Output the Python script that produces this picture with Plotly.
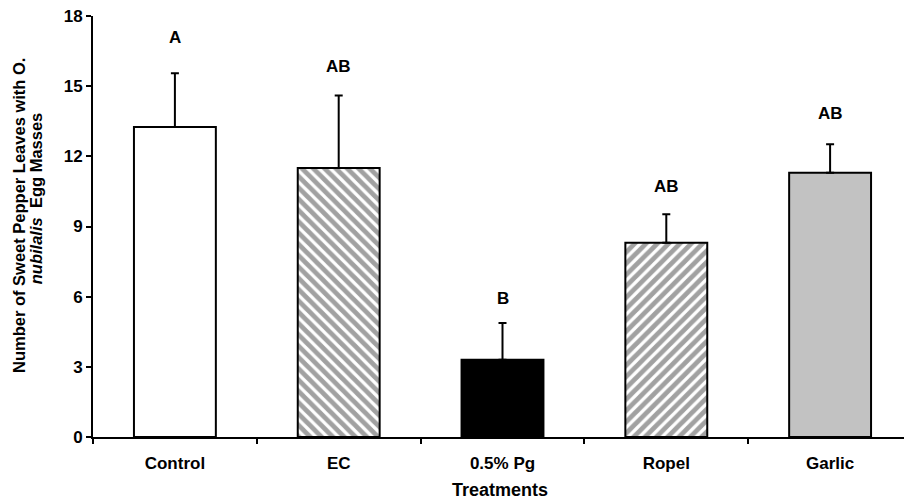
import plotly.graph_objects as go

treatments = ["Control", "EC", "0.5% Pg", "Ropel", "Garlic"]
means = [13.25, 11.5, 3.3, 8.3, 11.3]
se = [2.3, 3.1, 1.57, 1.22, 1.22]
letters = ["A", "AB", "B", "AB", "AB"]
y_ticks = [0, 3, 6, 9, 12, 15, 18]

fills = ["white", "white", "black", "white", "#c2c2c2"]
shapes = ["", "\\", "", "/", ""]

FAM = "Liberation Sans, Arial, sans-serif"

fig = go.Figure()
fig.add_trace(go.Bar(
    x=treatments, y=means, width=0.5,
    marker=dict(
        color=fills,
        line=dict(color="black", width=2),
        pattern=dict(shape=shapes, fgcolor="black", bgcolor="white",
                     size=8, solidity=0.6, fillmode="overlay"),
    ),
    error_y=dict(type="data", array=se, arrayminus=[0] * len(se),
                 symmetric=False, color="black", thickness=2, width=4),
))

offsets = [36, 29, 25, 28, 31]
for t, m, s, l, o in zip(treatments, means, se, letters, offsets):
    fig.add_annotation(x=t, y=m + s, text=f"<b>{l}</b>", showarrow=False,
                       yshift=o, font=dict(family=FAM, size=17, color="black"))

# y-axis title (two lines)
fig.add_annotation(
    xref="paper", yref="paper", x=-0.0905, y=0.527, xanchor="center", yanchor="middle",
    textangle=-90, showarrow=False,
    text="<b>Number of Sweet Pepper Leaves with O.</b>",
    font=dict(family=FAM, size=16.5, color="black"),
)
fig.add_annotation(
    xref="paper", yref="paper", x=-0.0695, y=0.565, xanchor="center", yanchor="middle",
    textangle=-90, showarrow=False,
    text="<b><i>nubilalis</i>  Egg Masses</b>",
    font=dict(family=FAM, size=16.5, color="black"),
)
# x-axis title
fig.add_annotation(
    xref="paper", yref="paper", x=0.497, y=-0.126, xanchor="center", yanchor="middle",
    showarrow=False, text="<b>Treatments</b>",
    font=dict(family=FAM, size=18, color="black"),
)

fig.update_layout(
    width=904, height=492,
    margin=dict(l=85, r=0, t=8, b=63),
    plot_bgcolor="white", paper_bgcolor="white",
    showlegend=False, font=dict(family=FAM, color="black"),
    xaxis=dict(
        range=[-0.5, 4.5], showline=True, linecolor="black", linewidth=2,
        ticks="outside", tickson="boundaries", ticklen=5, tickwidth=2, tickcolor="black",
        showgrid=False, zeroline=False,
        tickfont=dict(family=FAM, size=17, color="black", weight="bold"),
        ticklabelstandoff=10,
    ),
    yaxis=dict(
        range=[0, 18], tickvals=y_ticks, showline=True, linecolor="black", linewidth=2,
        ticks="outside", ticklen=5, tickwidth=2, tickcolor="black",
        showgrid=False, zeroline=False, ticklabeloverflow="allow",
        tickfont=dict(family=FAM, size=17, color="black", weight="bold"),
    ),
)

fig.write_html("out.html")
